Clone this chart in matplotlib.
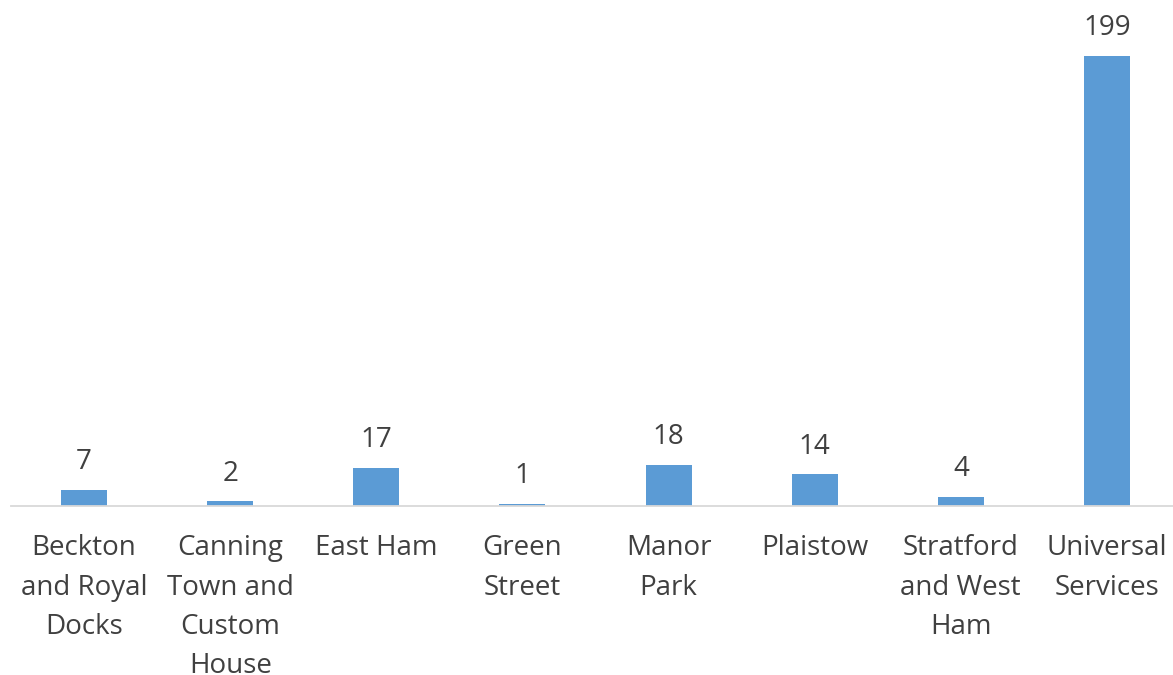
import matplotlib
matplotlib.use("Agg")
import matplotlib.pyplot as plt

categories = ["Beckton\nand Royal\nDocks", "Canning\nTown and\nCustom\nHouse", "East Ham",
              "Green\nStreet", "Manor\nPark", "Plaistow", "Stratford\nand West\nHam",
              "Universal\nServices"]
values = [7, 2, 17, 1, 18, 14, 4, 199]

plt.rcParams['font.family'] = ['Open Sans', 'DejaVu Sans']
text_color = "#404040"

fig = plt.figure(figsize=(11.73, 6.75), dpi=100)
ax = fig.add_axes([11/1173, (675-506)/675, 1169/1173, 506/675])

x = list(range(len(categories)))
ax.bar(x, values, width=0.315, color="#5B9BD5")
ax.set_xlim(-0.5, len(categories) - 0.5)
ax.set_ylim(0, 199 * 506 / 450)

for xi, v in zip(x, values):
    ax.annotate(str(v), (xi, v), xytext=(0, 15), textcoords="offset points",
                ha="center", va="baseline", fontsize=20, color=text_color)

ax.set_xticks(x)
ax.set_xticklabels(categories, fontsize=20, color=text_color, linespacing=1.53, va="top")
ax.tick_params(axis="x", length=0, pad=20.5)
ax.set_yticks([])
for s in ["top", "right", "left"]:
    ax.spines[s].set_visible(False)
ax.spines["bottom"].set_color("#D9D9D9")
ax.spines["bottom"].set_linewidth(1.3)

fig.savefig("out.png", dpi=100)
